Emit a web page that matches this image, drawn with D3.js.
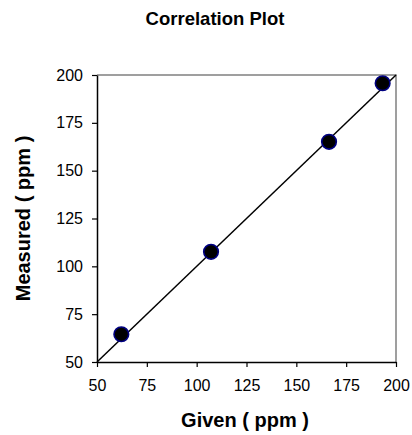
<!DOCTYPE html>
<html><head><meta charset="utf-8">
<script src="https://cdn.jsdelivr.net/npm/d3@7"></script>
<style>body{margin:0;background:#fff}svg{display:block;font-family:"Liberation Sans",Arial,sans-serif}</style>
</head><body><svg id="c" width="412" height="435"></svg>
<script>
const given = [62.2, 107.2, 166.4, 193.3];
const measured = [64.5, 107.6, 165.1, 195.7];
const fitX = [50, 200];
const fitY = [50, 200];
const xTicks = [50, 75, 100, 125, 150, 175, 200];
const yTicks = [50, 75, 100, 125, 150, 175, 200];
const title = "Correlation Plot";
const xLabel = "Given ( ppm )";
const yLabel = "Measured ( ppm )";

const svg = d3.select("#c");
const L = 97, R = 396, T = 75, B = 362;
const x = d3.scaleLinear().domain([50, 200]).range([L, R]);
const y = d3.scaleLinear().domain([50, 200]).range([B, T]);

// frame top/right
svg.append("path").attr("d", `M${L},${T}H${R}V${B}`).attr("fill", "none").attr("stroke", "#808080").attr("stroke-width", 1.5);

const xa = svg.append("g").attr("transform", `translate(0,${B})`)
  .call(d3.axisBottom(x).tickValues(xTicks).tickSize(5).tickPadding(13).tickSizeOuter(0));
const ya = svg.append("g").attr("transform", `translate(${L},0)`)
  .call(d3.axisLeft(y).tickValues(yTicks).tickSize(5).tickPadding(9).tickSizeOuter(0));
[xa, ya].forEach(a => {
  a.select(".domain").attr("stroke", "#000").attr("stroke-width", 1.5);
  a.selectAll(".tick line").attr("stroke", "#000").attr("stroke-width", 1.2);
  a.selectAll("text").attr("font-size", 16).attr("fill", "#000").attr("font-family", "Liberation Sans, Arial, sans-serif");
});

// fit line
svg.append("line").attr("x1", x(fitX[0])).attr("y1", y(fitY[0])).attr("x2", x(fitX[1])).attr("y2", y(fitY[1]))
  .attr("stroke", "#000").attr("stroke-width", 1.5);

svg.selectAll("circle.pt").data(given).join("circle").attr("class", "pt")
  .attr("cx", d => x(d)).attr("cy", (d, i) => y(measured[i])).attr("r", 7.3)
  .attr("fill", "#000").attr("stroke", "#000080").attr("stroke-width", 1.6);

svg.append("text").attr("x", 215).attr("y", 25).attr("text-anchor", "middle")
  .attr("font-weight", "bold").attr("font-size", 18.5).text(title);
svg.append("text").attr("x", 245).attr("y", 427).attr("text-anchor", "middle")
  .attr("font-weight", "bold").attr("font-size", 20).text(xLabel);
svg.append("text").attr("transform", `translate(30,${(T + B) / 2}) rotate(-90)`).attr("text-anchor", "middle")
  .attr("font-weight", "bold").attr("font-size", 20).text(yLabel);
</script></body></html>
